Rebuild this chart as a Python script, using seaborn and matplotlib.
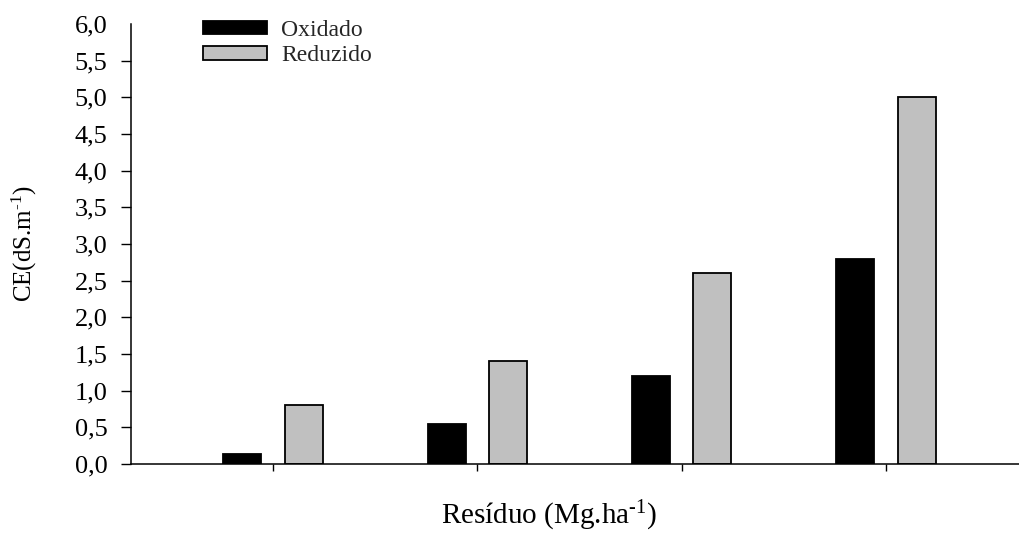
import matplotlib
matplotlib.use("Agg")
import matplotlib.pyplot as plt
import seaborn as sns
import pandas as pd

# Residue levels (no tick labels are printed on the x axis)
levels = ["1", "2", "3", "4"]
oxidado = [0.13, 0.55, 1.2, 2.8]
reduzido = [0.8, 1.4, 2.6, 5.0]
series_names = ["Oxidado", "Reduzido"]
ytick_values = [0.0, 0.5, 1.0, 1.5, 2.0, 2.5, 3.0, 3.5, 4.0, 4.5, 5.0, 5.5, 6.0]
ytick_labels = ["0,0", "0,5", "1,0", "1,5", "2,0", "2,5", "3,0",
                "3,5", "4,0", "4,5", "5,0", "5,5", "6,0"]

df = pd.DataFrame({
    "nivel": levels * 2,
    "CE": oxidado + reduzido,
    "estado": [series_names[0]] * len(levels) + [series_names[1]] * len(levels),
})

sns.set_theme(style="white")
plt.rcParams["font.family"] = ["Liberation Serif", "DejaVu Serif"]
plt.rcParams["mathtext.fontset"] = "custom"
plt.rcParams["mathtext.rm"] = "Liberation Serif"
plt.rcParams["mathtext.default"] = "regular"

fig = plt.figure(figsize=(10.2, 5.34), dpi=100)
ax = fig.add_axes([131 / 1020, 1 - 464 / 534, 1 - 131 / 1020, (464 - 24) / 534])

sns.barplot(data=df, x="nivel", y="CE", hue="estado",
            palette=["black", "#c0c0c0"], width=0.6, gap=0.38,
            edgecolor="black", linewidth=1.3, ax=ax, errorbar=None)

ax.set_xlim(-0.695, 3.656)
ax.set_ylim(0, 6.0)
ax.set_yticks(ytick_values)
ax.set_yticklabels(ytick_labels)
ax.set_xticklabels([])
ax.set_xlabel("")
ax.set_ylabel("")

for side in ["top", "right"]:
    ax.spines[side].set_visible(False)
for side in ["left", "bottom"]:
    ax.spines[side].set_color("black")
    ax.spines[side].set_linewidth(1.1)

ax.tick_params(axis="y", direction="out", length=7, width=1.0, pad=10,
               labelsize=19, colors="black", left=True)
ax.tick_params(axis="x", direction="out", length=5, width=1.0,
               colors="black", bottom=True)
ax.yaxis.get_major_ticks()[-1].tick1line.set_visible(False)

handles, labels = ax.get_legend_handles_labels()
ax.legend(handles, labels, loc="upper left",
          bbox_to_anchor=(203 / 1020, 1 - 20 / 534),
          bbox_transform=fig.transFigure, frameon=False, fontsize=17,
          handlelength=2.7, handleheight=0.5, handletextpad=0.6,
          labelspacing=0.18, borderpad=0, borderaxespad=0)

fig.text(24 / 1020, 1 - 243 / 534, r"CE(dS.m$^{\text{-1}}$)", rotation=90,
         ha="center", va="center", fontsize=18, color="black")
fig.text(549 / 1020, 1 - 516 / 534, r"Resíduo (Mg.ha$^{\text{-1}}$)",
         ha="center", va="center", fontsize=21, color="black")

fig.savefig("out.png", dpi=100)
